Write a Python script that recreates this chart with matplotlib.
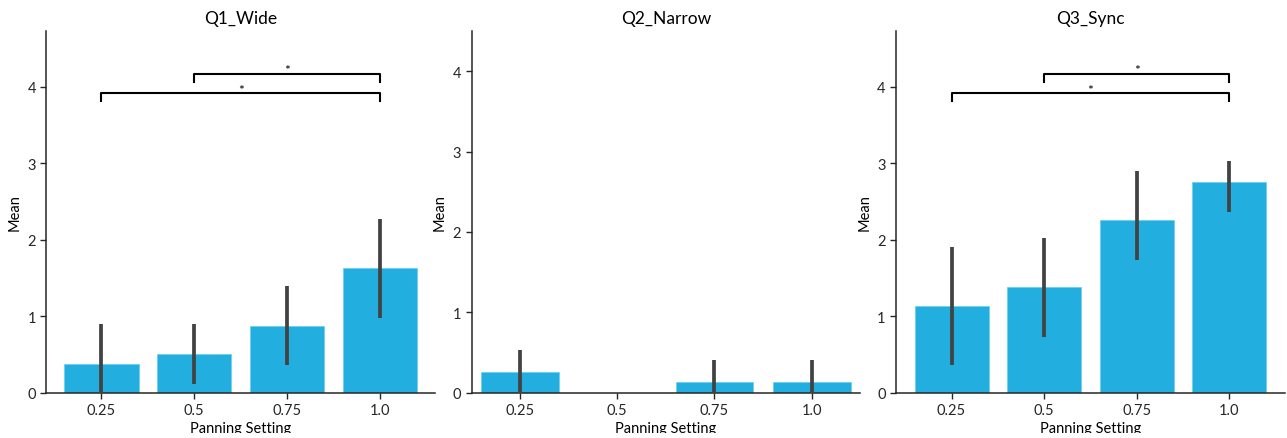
import matplotlib
matplotlib.use("Agg")
import matplotlib.pyplot as plt
from matplotlib.transforms import Bbox
import numpy as np

plt.rcParams['font.family'] = ['Lato', 'DejaVu Sans']

categories = ["0.25", "0.5", "0.75", "1.0"]
titles = ["Q1_Wide", "Q2_Narrow", "Q3_Sync"]

q1_mean = [0.375, 0.5, 0.875, 1.625]
q1_lo = [0.0, 0.11, 0.36, 0.98]
q1_hi = [0.9, 0.9, 1.39, 2.27]

q2_mean = [0.25, 0.0, 0.125, 0.125]
q2_lo = [0.0, 0.0, 0.0, 0.0]
q2_hi = [0.53, 0.0, 0.40, 0.40]

q3_mean = [1.125, 1.375, 2.25, 2.75]
q3_lo = [0.36, 0.72, 1.73, 2.36]
q3_hi = [1.90, 2.02, 2.90, 3.03]

# significance brackets: (from index, to index, level)
q1_sig = [(0, 3, 3.92), (1, 3, 4.17)]
q3_sig = [(0, 3, 3.92), (1, 3, 4.17)]

means = [q1_mean, q2_mean, q3_mean]
los = [q1_lo, q2_lo, q3_lo]
his = [q1_hi, q2_hi, q3_hi]
sigs = [q1_sig, [], q3_sig]
ylims = [4.725, 4.5, 4.725]
xpads = [0.59, 0.5, 0.6]

W, H = 1287, 439
fig = plt.figure(figsize=(W / 100, H / 100), dpi=100)
lefts = [0.0361, 0.3664, 0.6962]
width = 0.302
bottom = 0.1036
height = 0.927 - 0.1036

bar_color = "#22AFDF"
err_color = "#424242"

clip = Bbox([[0, H - 433.5], [W, H]])

for i in range(3):
    ax = fig.add_axes([lefts[i], bottom, width, height])
    x = np.arange(len(categories))
    ax.bar(x, means[i], width=0.8, color=bar_color, edgecolor="#6fd0f0", linewidth=0.6)
    for xi, lo, hi in zip(x, los[i], his[i]):
        if hi > lo:
            ax.plot([xi, xi], [lo, hi], color=err_color, lw=2.7, solid_capstyle='butt', zorder=3)
    for (a, b, yv) in sigs[i]:
        h = 0.11
        ax.plot([a, a, b, b], [yv - h, yv, yv, yv - h], color="black", lw=1.5, zorder=4)
        ax.text((a + b) / 2, yv + 0.04, "*", ha="center", va="center", fontsize=10)
    ax.set_xlim(-xpads[i], len(categories) - 1 + xpads[i])
    ax.set_ylim(0, ylims[i])
    ax.set_xticks(x)
    ax.set_xticklabels(categories)
    ax.set_yticks([0, 1, 2, 3, 4])
    ax.set_title(titles[i], fontsize=12.5)
    ax.set_xlabel("Panning Setting", fontsize=10.5, labelpad=3)
    ax.xaxis.label.set_clip_box(clip)
    ax.xaxis.label.set_clip_on(True)
    ax.set_ylabel("Mean", fontsize=10.5)
    ax.tick_params(labelsize=10.5, length=4, width=1, colors="#262626")
    for s in ["top", "right"]:
        ax.spines[s].set_visible(False)
    for s in ["left", "bottom"]:
        ax.spines[s].set_color("#262626")
        ax.spines[s].set_linewidth(1.1)

fig.savefig("out.png", dpi=100)
